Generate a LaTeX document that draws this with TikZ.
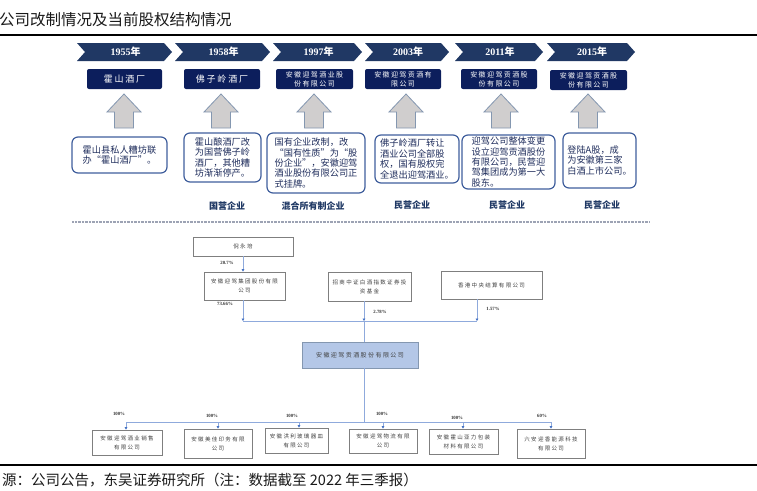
\documentclass[tikz,border=0pt]{standalone}
\usepackage{fontspec}
\setmainfont{Liberation Serif}
\newfontfamily\cjk{Noto Sans CJK SC}
\newfontfamily\cjksp[LetterSpace=20]{Noto Sans CJK SC}
\newfontfamily\cjkss[LetterSpace=24]{Noto Sans CJK SC}
\usetikzlibrary{arrows.meta}
\definecolor{chevcol}{HTML}{203864}
\definecolor{namecol}{HTML}{0C1E5C}
\definecolor{arrfill}{HTML}{D0CECE}
\definecolor{arrdraw}{HTML}{8497B0}
\definecolor{desccol}{HTML}{3F5E9C}
\definecolor{desctext}{HTML}{1F2D5C}
\definecolor{kindcol}{HTML}{1F3864}
\definecolor{cboxcol}{HTML}{7F7F7F}
\definecolor{ctext}{HTML}{404040}
\definecolor{mainfill}{HTML}{B4C7E7}
\definecolor{conncol}{HTML}{8FAADC}
\definecolor{tipcol}{HTML}{4472C4}
\definecolor{dotcol}{HTML}{9DA3B4}
\tikzset{
  chevtext/.style={text=white, font=\bfseries\fontsize{10}{12}\selectfont, inner sep=0pt},
  namebox/.style={fill=namecol, rounded corners=2pt, text=white, align=center, inner sep=0pt},
  namebig/.style={namebox, font=\cjksp\fontsize{9}{11}\selectfont},
  namesmall/.style={namebox, font=\cjksp\fontsize{7}{9}\selectfont},
  upshape/.style={fill=arrfill, draw=arrdraw, line width=0.8pt},
  descbox/.style={draw=desccol, line width=1.2pt, rounded corners=6pt, align=left, inner sep=0pt, text=desctext, font=\cjk\fontsize{9.2}{10.4}\selectfont},
  kind/.style={font=\cjk\bfseries\fontsize{9}{11}\selectfont, text=kindcol, inner sep=0pt},
  cbox/.style={draw=cboxcol, line width=0.8pt, align=center, inner sep=0pt, text=ctext, font=\cjkss\fontsize{5.5}{9}\selectfont},
  mainbox/.style={cbox, fill=mainfill, draw=arrdraw, font=\cjkss\fontsize{6}{9}\selectfont},
  pct/.style={font=\bfseries\fontsize{4.8}{6}\selectfont, text=black!80, inner sep=0pt},
  conn/.style={draw=conncol, line width=0.8pt},
  tipped/.style={conn, -{Triangle[length=2.4pt,width=2.6pt,color=tipcol]}},
  rule/.style={line width=2pt, black}
}
\begin{document}
\begin{tikzpicture}[x=1pt,y=-1pt]
\useasboundingbox (0,0) rectangle (757,490);
\clip (0,0) rectangle (757,490);
% title and rules
\node[anchor=west, inner sep=0pt, font=\cjk\fontsize{15.5}{17}\selectfont, text=black!90] (title) at (-1,20) {公司改制情况及当前股权结构情况};
\draw[rule] (0,35) -- (757,35);
\draw[rule] (0,465) -- (757,465);
\node[anchor=west, inner sep=0pt, font=\cjk\fontsize{14.5}{16}\selectfont, text=black!90] (source) at (2,480) {源：公司公告，东吴证券研究所（注：数据截至 2022 年三季报）};
% chevrons
\foreach \a/\b/\t/\n in {77/172/1955/y1, 175/270/1958/y2, 273/362/1997/y3, 365/449/2003/y4, 455/543/2011/y5, 547/635/2015/y6}{
  \fill[chevcol] (\a,43) -- (\b-8,43) -- (\b,52) -- (\b-8,61) -- (\a,61) -- (\a+8,52) -- cycle;
  \node[chevtext] (\n) at ({(\a+\b)/2+1},52) {\t{\cjk\bfseries 年}};
}
% name boxes
\node[namebig, minimum width=75, minimum height=20] (n1) at (124.5,79) {霍山酒厂};
\node[namebig, minimum width=76, minimum height=20] (n2) at (222,79) {佛子岭酒厂};
\node[namesmall, minimum width=77, minimum height=20] (n3) at (314.5,79) {安徽迎驾酒业股\\份有限公司};
\node[namesmall, minimum width=76, minimum height=20] (n4) at (403,79) {安徽迎驾贡酒有\\限公司};
\node[namesmall, minimum width=76, minimum height=20] (n5) at (499,79) {安徽迎驾贡酒股\\份有限公司};
\node[namesmall, minimum width=77, minimum height=20] (n6) at (588.5,80) {安徽迎驾贡酒股\\份有限公司};
% up arrows
\foreach \c in {124,221,314,406,501,588}{
  \filldraw[upshape] (\c,94) -- (\c+17,112) -- (\c+9.5,112) -- (\c+9.5,128) -- (\c-9.5,128) -- (\c-9.5,112) -- (\c-17,112) -- cycle;
}
% description boxes
\node[descbox, minimum width=95, minimum height=36] (d1) at (119.5,155) {霍山县私人糟坊联\\办“霍山酒厂”。};
\node[descbox, minimum width=77, minimum height=49] (d2) at (222.5,157.5) {霍山酿酒厂改\\为国营佛子岭\\酒厂，其他糟\\坊渐渐停产。};
\node[descbox, minimum width=98, minimum height=60] (d3) at (316,163) {国有企业改制，改\\“国有性质”为“股\\份企业”，安徽迎驾\\酒业股份有限公司正\\式挂牌。};
\node[descbox, minimum width=84, minimum height=48] (d4) at (417,159) {佛子岭酒厂转让\\酒业公司全部股\\权，国有股权完\\全退出迎驾酒业。};
\node[descbox, minimum width=93, minimum height=54] (d5) at (508.5,162) {迎驾公司整体变更\\设立迎驾贡酒股份\\有限公司，民营迎\\驾集团成为第一大\\股东。};
\node[descbox, minimum width=73, minimum height=55] (d6) at (599.5,160.5) {登陆A股，成\\为安徽第三家\\白酒上市公司。};
% kinds
\node[kind] (k2) at (227,206) {国营企业};
\node[kind] (k3) at (313,206) {混合所有制企业};
\node[kind] (k4) at (412,205) {民营企业};
\node[kind] (k5) at (507,205) {民营企业};
\node[kind] (k6) at (602,205) {民营企业};
% dotted separator
\draw[dotcol, line width=1.5pt, dash pattern=on 0.8pt off 0.6pt] (72,222) -- (650,222);
% ownership chart
\node[cbox, minimum width=100, minimum height=19] (P) at (243,246.5) {倪永培};
\node[cbox, minimum width=81, minimum height=28] (G) at (244.5,286) {安徽迎驾集团股份有限\\公司};
\node[cbox, minimum width=83, minimum height=29] (F) at (369.5,286.5) {招商中证白酒指数证券投\\资基金};
\node[cbox, minimum width=101, minimum height=28] (H) at (491.5,285) {香港中央结算有限公司};
\node[mainbox, minimum width=116, minimum height=26] (M) at (360,355) {安徽迎驾贡酒股份有限公司};
\coordinate (b1) at (243,321);
\coordinate (b2) at (364,321);
\coordinate (b3) at (477,321);
\draw[tipped] (P.south) -- (P.south |- G.north);
\draw[tipped] (G.south -| b1) -- (b1);
\draw[tipped] (F.south -| b2) -- (b2);
\draw[tipped] (H.south -| b3) -- (b3);
\draw[conn] (b1) -- (b3);
\draw[conn] (b2) -- (M.north -| b2);
\node[pct] (p1) at (227,263) {20.7\%};
\node[pct] (p2) at (225,304) {73.66\%};
\node[pct] (p3) at (380,312) {2.78\%};
\node[pct] (p4) at (493,309) {1.57\%};
% subsidiaries
\node[cbox, minimum width=70, minimum height=25] (C1) at (127,442.5) {安徽迎驾酒业销售\\有限公司};
\node[cbox, minimum width=68, minimum height=29] (C2) at (218,443.5) {安徽美佳印务有限\\公司};
\node[cbox, minimum width=63, minimum height=25] (C3) at (296.5,440.5) {安徽洪利玻璃器皿\\有限公司};
\node[cbox, minimum width=68, minimum height=24] (C4) at (383,441) {安徽迎驾物流有限\\公司};
\node[cbox, minimum width=69, minimum height=25] (C5) at (463.5,441.5) {安徽霍山亚力包装\\材料有限公司};
\node[cbox, minimum width=68, minimum height=29] (C6) at (551,443.5) {六安迎香能源科技\\有限公司};
\coordinate (m0) at (364,422);
\draw[conn] (M.south -| m0) -- (m0);
\coordinate (s1) at (126,422);
\coordinate (s2) at (218,422);
\coordinate (s3) at (299,422);
\coordinate (s4) at (383,422);
\coordinate (s5) at (463,422);
\coordinate (s6) at (551,422);
\draw[conn] (s1) -- (s6);
\foreach \i in {1,...,6}{
  \draw[tipped] (s\i) -- (C\i.north -| s\i);
}
\node[pct] (q1) at (119,414) {100\%};
\node[pct] (q2) at (212,416) {100\%};
\node[pct] (q3) at (292,416) {100\%};
\node[pct] (q4) at (382,414) {100\%};
\node[pct] (q5) at (457,418) {100\%};
\node[pct] (q6) at (542,416) {60\%};
\end{tikzpicture}
\end{document}
